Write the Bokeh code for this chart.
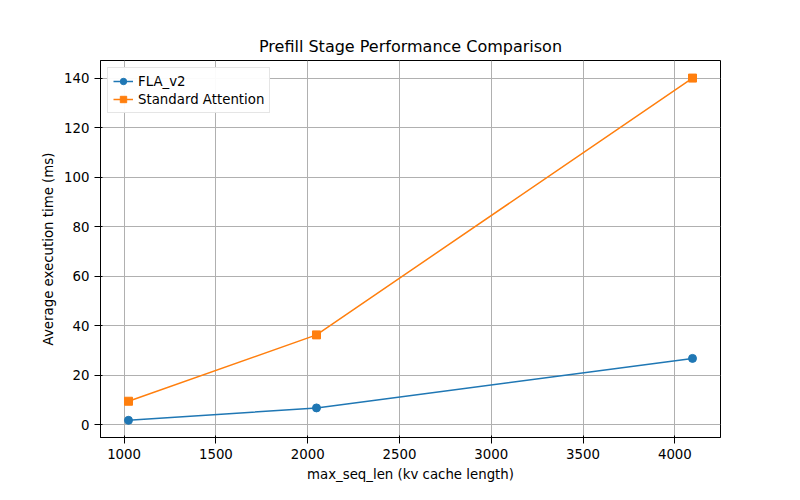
from bokeh.plotting import figure
from bokeh.embed import file_html
from bokeh.resources import INLINE
from bokeh.models import Range1d, Legend, LegendItem

x = [1024, 2048, 4096]
fla = [1.8, 6.8, 26.8]
std = [9.5, 36.3, 140.0]

p = figure(width=784, height=484, output_backend="svg", toolbar_location=None,
           x_range=Range1d(871.5, 4248.5), y_range=Range1d(-5.14, 147.1),
           title="Prefill Stage Performance Comparison",
           min_border_left=100, min_border_right=64, min_border_top=60, min_border_bottom=39)
p.title.align = "center"
p.title.text_font = "DejaVu Sans"
p.title.text_font_style = "normal"
p.title.text_font_size = "12pt"
p.title.text_color = "black"
p.xaxis.axis_label = "max_seq_len (kv cache length)"
p.yaxis.axis_label = "Average execution time (ms)"
for ax in (p.xaxis[0], p.yaxis[0]):
    ax.axis_label_text_font = "DejaVu Sans"
    ax.axis_label_text_font_style = "normal"
    ax.axis_label_text_font_size = "10pt"
    ax.axis_label_text_color = "black"
    ax.major_label_text_font = "DejaVu Sans"
    ax.major_label_text_font_size = "10pt"
    ax.major_label_text_color = "black"
    ax.minor_tick_line_color = None
    ax.axis_line_color = "black"
    ax.major_tick_line_color = "black"
p.xaxis.ticker = [1000, 1500, 2000, 2500, 3000, 3500, 4000]
p.yaxis.ticker = [0, 20, 40, 60, 80, 100, 120, 140]
p.grid.grid_line_color = "#b0b0b0"
p.grid.grid_line_alpha = 1.0
p.outline_line_color = "black"
p.background_fill_color = "white"

l1 = p.line(x, fla, line_color="#1f77b4", line_width=1.5)
m1 = p.scatter(x, fla, marker="circle", size=8, color="#1f77b4")
l2 = p.line(x, std, line_color="#ff7f0e", line_width=1.5)
m2 = p.scatter(x, std, marker="square", size=8, color="#ff7f0e")

leg = Legend(items=[LegendItem(label="FLA_v2", renderers=[l1, m1]),
                    LegendItem(label="Standard Attention", renderers=[l2, m2])],
             location="top_left", label_text_font="DejaVu Sans", label_text_font_size="10pt",
             label_text_color="black",
             border_line_color="#cccccc", padding=5, spacing=2, margin=7,
             glyph_height=16, label_height=16)
p.add_layout(leg)

open("out.html", "w").write(file_html(p, INLINE))
